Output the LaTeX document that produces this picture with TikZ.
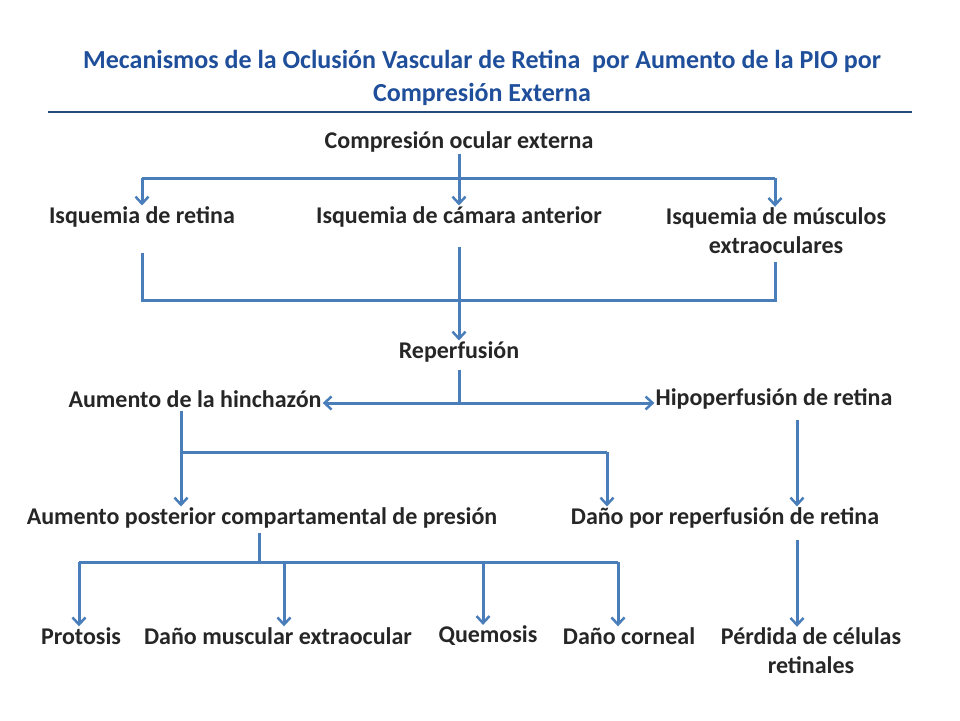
\documentclass[tikz,border=0pt]{standalone}
\usepackage{fontspec}
\setmainfont{Carlito}
\usetikzlibrary{arrows.meta}
\definecolor{ln}{HTML}{4A7EBB}
\definecolor{ttl}{HTML}{1F4E9A}
\definecolor{rule}{HTML}{254A7C}
\begin{document}
\begin{tikzpicture}[x=1pt,y=-1pt,
  lbl/.style={font=\fontsize{24}{29}\selectfont\bfseries,text=black!85,inner sep=1pt,align=center},
  con/.style={draw=ln,line width=3pt},
  arr/.style={con,-{Straight Barb[length=7pt,width=13pt,line width=2.5pt]}}]
\useasboundingbox (0,0) rectangle (960,720);
\node[font=\fontsize{26}{33}\selectfont\bfseries,text=ttl,align=center] (title) at (482,78)
 {Mecanismos de la Oclusión Vascular de Retina\ \ por Aumento de la PIO por\\Compresión Externa};
\coordinate (r1) at (48,112); \coordinate (r2) at (912,112);
\draw[rule,line width=2.5pt] (r1) -- (r2);
\node[lbl] (ce) at (459,142) {Compresión ocular externa};
\node[lbl] (ir) at (142,217) {Isquemia de retina};
\node[lbl] (ic) at (459,217) {Isquemia de cámara anterior};
\node[lbl] (im) at (776,231) {Isquemia de músculos\\extraoculares};
\node[lbl] (rp) at (459,352) {Reperfusión};
\node[lbl] (ah) at (195,399) {Aumento de la hinchazón};
\node[lbl] (hr) at (774,399) {Hipoperfusión de retina};
\node[lbl] (ap) at (262,518) {Aumento posterior compartamental de presión};
\node[lbl] (dr) at (725,518) {Daño por reperfusión de retina};
\node[lbl] (pr) at (81,636) {Protosis};
\node[lbl] (dm) at (278,636) {Daño muscular extraocular};
\node[lbl] (qm) at (488,636) {Quemosis};
\node[lbl] (dc) at (629,636) {Daño corneal};
\node[lbl] (pc) at (811,651) {Pérdida de células\\retinales};
% level 1
\coordinate (a1) at (142,178); \coordinate (a2) at (775,178); \coordinate (a0) at (459,178);
\draw[con] (a1) -- (a2);
\draw[arr] (ce.south -| a0) -- (ic.north);
\draw[arr] (a1) -- (ir.north);
\draw[arr] (a2) -- (im.north -| a2);
% level 2
\coordinate (b1) at (142,300); \coordinate (b2) at (775,300);
\draw[con] (142,253) coordinate (c1) -- (b1) -- (b2) -- (775,262) coordinate (c2);
\draw[arr] (ic.south) ++(0,18) coordinate (c3) -- (rp.north);
% reperfusion split
\coordinate (d0) at (459,403);
\draw[con] (rp.south) ++(0,6) coordinate (d1) -- (d0);
\draw[arr] (d0) -- (ah.east |- d0);
\draw[arr] (d0) -- (hr.west |- d0);
% hinchazon
\coordinate (e0) at (181,452); \coordinate (e1) at (607,452);
\draw[arr] (ah.south -| e0) ++(0,2) -- (ap.north -| e0);
\draw[con] (e0) -- (e1);
\draw[arr] (e1) -- (dr.north -| e1);
\coordinate (h1) at (797,420);
\draw[arr] (h1) -- (dr.north -| h1);
% bottom
\coordinate (f0) at (259,562); \coordinate (f1) at (79,562); \coordinate (f2) at (284,562);
\coordinate (f3) at (483,562); \coordinate (f4) at (618,562);
\draw[con] (ap.south -| f0) ++(0,3) coordinate (g0) -- (f0);
\draw[con] (f1) -- (f4);
\draw[arr] (f1) -- (pr.north -| f1);
\draw[arr] (f2) -- (dm.north -| f2);
\draw[arr] (f3) -- (qm.north -| f3);
\draw[arr] (f4) -- (dc.north -| f4);
\coordinate (h2) at (797,540);
\draw[arr] (h2) -- (pc.north -| h2);
\end{tikzpicture}
\end{document}
